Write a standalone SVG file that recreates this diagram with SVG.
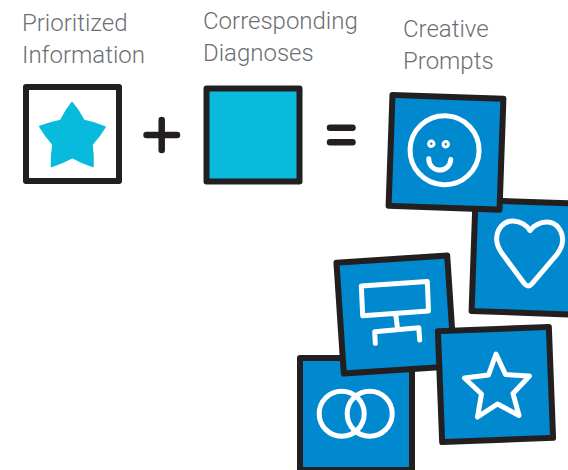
<svg xmlns="http://www.w3.org/2000/svg" width="568" height="470" viewBox="0 0 568 470">
<style>
.t{font-family:"Roboto","Liberation Sans",sans-serif;font-weight:300;font-size:24px;fill:#6d6f73}
.card{fill:#0089cf;stroke:#231f20;stroke-width:6;stroke-linejoin:round}
.ic{fill:none;stroke:#fff;stroke-width:5;stroke-linejoin:round;stroke-linecap:round}
.op{fill:none;stroke:#231f20;stroke-width:6.500;stroke-linecap:round}
</style>
<rect width="568" height="470" fill="#fff"/>
<g id="label-prioritized"><text class="t" x="22" y="31">Prioritized</text><text class="t" x="22" y="63">Information</text></g>
<g id="label-corresponding"><text class="t" x="203" y="29">Corresponding</text><text class="t" x="203" y="61">Diagnoses</text></g>
<g id="label-creative"><text class="t" x="403" y="37">Creative</text><text class="t" x="403" y="69">Prompts</text></g>
<g id="prioritized">
<rect x="26" y="87" width="93" height="94" fill="#fff" stroke="#231f20" stroke-width="6" stroke-linejoin="round"/>
<path d="M72 102.500Q78.500 110 84 120.500Q95 122.500 105 127Q100 135.500 92 144.500Q93.500 155 93 166.500Q82 163 72.500 157.500Q62 163 51.500 166.500Q51 155 53 144.500Q45 135.500 39.800 126.500Q50 122.500 60.500 120.500Q66 110 72 102.500Z" fill="#08bbdc" stroke="#08bbdc" stroke-width="1.500" stroke-linejoin="round"/>
</g>
<g id="plus"><path class="op" d="M161.700 120V150M146.500 135H177"/></g>
<g id="diagnoses"><rect x="206.500" y="88.500" width="93" height="93" fill="#08bbdc" stroke="#231f20" stroke-width="6" stroke-linejoin="round"/></g>
<g id="equals"><path class="op" d="M330 127.700H352.500M330 142.300H352.500"/></g>
<g id="card-heart" transform="translate(529 257.500) rotate(2)">
<rect class="card" x="-55.500" y="-55.500" width="111" height="111"/>
<path class="ic" d="M0 -27C-3 -32 -10 -36 -17 -36C-27 -36 -33 -27 -33 -18C-33 -12 -30 -7 -27 -3L-4 26Q0 31 4 26L27 -3C30 -7 33 -12 33 -18C33 -27 27 -36 17 -36C10 -36 3 -32 0 -27Z"/>
</g>
<g id="card-smile" transform="translate(446 152.300) rotate(2)">
<rect class="card" x="-55.500" y="-55.500" width="111" height="111"/>
<circle class="ic" cx="-1.500" cy="-2" r="34.500"/>
<circle cx="-15" cy="-8" r="2.700" fill="none" stroke="#fff" stroke-width="3"/>
<circle cx="-0.500" cy="-8" r="2.700" fill="none" stroke="#fff" stroke-width="3"/>
<path class="ic" d="M-17 7A11 11 0 0 0 5 7"/>
</g>
<g id="card-rings">
<rect class="card" x="300" y="358" width="112" height="112"/>
<circle class="ic" cx="341.700" cy="413.700" r="22.500"/>
<circle class="ic" cx="369.700" cy="413.700" r="22.500"/>
</g>
<g id="card-flow">
<rect class="card" transform="translate(395.500 314.500) rotate(-3.800)" x="-55.500" y="-55.500" width="111" height="111"/>
<path class="ic" d="M361.300 286L427.300 281.500L428.500 311L362.700 315.700ZM395.700 313.700L397.300 327M375.300 343.300L374.700 331.800L418.800 327.800L419.700 340"/>
</g>
<g id="card-star">
<rect class="card" transform="translate(495.500 384.500) rotate(-2.200)" x="-55.500" y="-55.500" width="111" height="111"/>
<path class="ic" d="M496 354L505.500 374.500L529.500 376L513 393.500L519 415.500L497.500 404L477.500 417L481.500 394L464.500 378L488.500 375Z"/>
</g>
</svg>
